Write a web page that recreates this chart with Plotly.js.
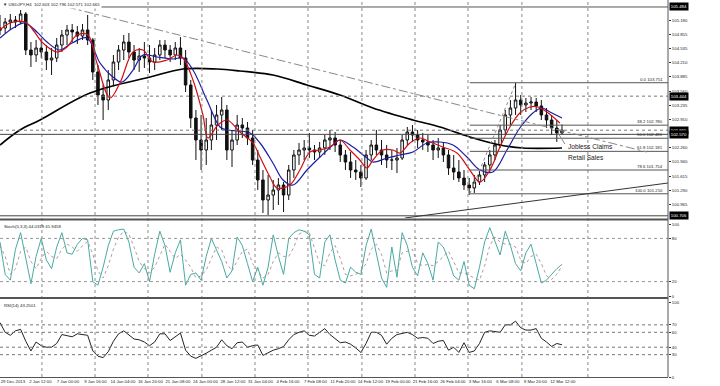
<!DOCTYPE html>
<html><head><meta charset="utf-8">
<script src="https://cdn.plot.ly/plotly-3.0.1.min.js"></script>
<style>html,body{margin:0;padding:0;background:#fff;}#chart{width:720px;height:386px;}</style>
</head><body><div id="chart"></div>
<script>
// ---- data (USDJPY H4, one candle every 3 H4 bars) ----
const highs = [105.301,105.232,105.324,105.278,105.415,105.369,104.683,104.729,104.775,104.614,
104.546,104.775,104.958,105.072,105.095,105.049,105.095,105.301,104.775,104.157,
103.699,104.042,104.386,104.614,104.843,104.889,104.614,104.546,104.683,104.614,
104.546,104.729,104.729,104.614,104.683,104.797,104.500,103.814,103.127,103.013,
102.944,103.127,103.242,103.425,103.242,102.670,103.013,102.944,102.853,102.670,
102.212,101.754,101.640,101.526,101.571,101.480,101.869,102.212,102.372,102.441,
102.601,102.326,102.395,102.555,102.670,102.624,102.441,102.212,102.166,101.983,
101.869,102.212,102.441,102.670,102.441,102.326,102.212,102.258,102.555,102.738,
102.784,102.670,102.601,102.555,102.441,102.487,102.395,102.212,102.098,101.983,
101.754,101.571,101.640,101.754,101.937,102.212,102.441,102.784,103.127,103.356,
103.745,103.470,103.402,103.425,103.402,103.356,103.173,103.013,102.898,102.796];
const lows = [104.843,104.889,104.958,105.003,105.095,104.386,104.111,104.225,104.317,104.042,
103.928,104.225,104.454,104.614,104.683,104.637,104.729,104.614,103.814,103.242,
102.898,103.127,103.699,104.042,104.271,104.317,104.042,103.997,104.088,103.974,
104.042,104.271,104.317,104.225,104.271,104.157,103.539,102.715,101.983,101.754,
101.869,102.212,102.441,102.670,101.983,101.823,102.326,102.487,102.326,101.869,
101.297,100.771,100.725,100.839,100.954,100.793,101.068,101.571,101.869,101.983,
102.029,101.983,102.029,102.098,102.212,102.166,101.937,101.754,101.571,101.526,
101.365,101.526,101.983,102.098,101.869,101.800,101.754,101.686,101.983,102.326,
102.395,102.258,102.212,102.166,101.983,102.029,101.937,101.640,101.526,101.480,
101.297,101.182,101.228,101.411,101.480,101.709,101.983,102.258,102.555,102.784,
103.013,103.013,103.081,103.127,103.081,102.898,102.715,102.555,102.395,102.571];
const closes = [105.003,105.141,105.186,105.141,105.324,104.500,104.386,104.546,104.454,104.271,
104.317,104.614,104.843,104.958,104.912,104.820,104.958,104.729,103.997,103.470,
103.356,103.814,104.225,104.500,104.683,104.454,104.271,104.363,104.317,104.225,
104.386,104.614,104.500,104.386,104.546,104.317,103.699,102.944,102.441,102.212,
102.441,102.784,103.013,103.127,102.212,102.441,102.784,102.715,102.487,101.983,
101.526,101.068,101.182,101.297,101.411,101.182,101.754,102.098,102.212,102.258,
102.212,102.166,102.258,102.441,102.487,102.326,102.098,101.937,101.754,101.709,
101.571,102.098,102.326,102.212,102.098,101.983,101.983,102.029,102.441,102.624,
102.555,102.441,102.395,102.326,102.212,102.258,102.098,101.800,101.709,101.571,
101.411,101.343,101.480,101.640,101.869,102.098,102.326,102.670,103.013,103.173,
103.356,103.242,103.287,103.310,103.219,103.013,102.898,102.715,102.603,102.665];
const firstOpen = 104.95;

// moving averages (bar number, price)
const redMaBars = [0,5.8,14.5,19.2,25.0,33.2,39.0,44.8,51.2,56.4,64.0,69.8,77.4,83.2,89.0,97.2,103.0,106.5,112.3,118.1,121.0,126.8,132.1,139.6,147.2,151.3,157.1,161.2,168.7,174.5,180.4,186.2,192.0,197.8,203.6,209.4,213.5,217.0,222.8,228.6,232.7,238.5,244.4,250.2,257.7,265.9,273.4,279.3,285.1,290.9,296.7,302.5,308.4,313.0,318.2,325.8];
const redMa = [104.958,105.118,105.141,104.958,104.660,104.454,104.569,104.843,104.843,104.203,103.402,103.745,104.454,104.500,104.225,104.271,104.386,104.317,103.814,103.013,102.487,102.784,102.898,102.624,102.372,102.052,101.594,101.343,101.411,101.754,102.166,102.212,102.281,102.441,102.212,101.983,101.800,101.983,102.212,102.212,102.143,102.372,102.487,102.395,102.281,102.143,101.754,101.480,101.754,102.281,102.738,103.059,103.196,103.196,103.081,102.830];
const blueMaBars = [0,7.6,14.5,21.5,27.3,34.9,41.9,50.6,58.2,65.7,71.0,77.4,83.2,91.3,100.7,106.5,112.3,120.4,128.0,132.1,139.6,145.5,151.3,158.8,164.7,170.5,178.6,186.2,193.7,197.8,205.4,213.5,217.0,225.2,232.7,240.3,248.4,256.0,263.6,271.7,279.3,286.8,295.0,302.5,310.1,315.3,320.0,327.0];
const blueMa = [104.775,105.003,105.118,104.912,104.683,104.500,104.660,104.775,104.203,103.882,103.768,104.042,104.386,104.340,104.294,104.317,104.042,103.356,102.738,102.670,102.647,102.601,102.372,101.915,101.526,101.411,101.754,102.052,102.326,102.441,102.281,102.029,101.937,102.029,102.098,102.166,102.372,102.395,102.326,102.052,101.754,101.709,102.212,102.715,103.059,103.173,103.081,102.944];
const blackMaBars = [0,11.6,23.3,52.4,87.3,106.5,126.3,139.6,158.8,178.6,197.8,217.0,240.3,256.0,273.4,290.9,304.3,327.0];
const blackMa = [102.326,102.670,102.898,103.516,103.882,104.065,104.065,104.020,103.928,103.699,103.470,103.173,102.898,102.738,102.509,102.326,102.258,102.258];

// stochastic (5,3,3) and RSI(14), one value per candle
const stochMain = [75,30,22,65,88,50,17,55,80,50,38,68,88,60,58,72,80,78,20,15,
40,70,90,92,93,75,40,32,45,20,58,90,70,33,60,78,15,30,32,22,
55,80,65,48,25,35,82,70,45,20,40,15,40,85,55,30,80,88,92,90,
85,30,25,75,85,50,22,18,40,33,30,70,93,60,25,12,68,26,88,70,
40,28,60,45,22,75,68,50,28,22,48,15,10,40,75,95,75,57,90,70,
45,35,60,72,45,18,22,30,38,44.03];
const stochSignal = [70,55,30,38,62,68,48,38,52,62,55,52,65,72,68,62,70,76,58,35,
25,42,65,82,90,86,68,48,38,32,40,56,72,62,52,58,50,40,25,28,
36,52,68,64,45,35,48,62,65,45,35,25,30,48,60,55,55,68,86,90,
88,68,45,42,60,70,52,30,28,30,35,45,65,72,58,32,35,35,60,62,
65,45,42,44,42,48,55,62,48,32,32,28,25,22,42,70,82,75,72,72,
68,50,45,55,58,45,28,23,30,41.95];
const rsi = [73,60,56,62,64,48,35,47,42,40,40,45,57,55,54,58,57,56,35,28,
26,34,48,58,62,56,51,50,47,42,47,58,58,49,54,59,36,28,25,28,
32,36,40,50,42,38,46,47,40,42,43,29,33,36,38,41,50,57,60,62,
56,55,60,65,57,52,46,47,44,39,33,45,60,60,56,44,52,57,59,60,
57,52,53,52,45,48,49,36,40,33,46,33,35,45,60,62,61,60,70,70,
75,66,63,63,65,52,47,41,45,43.25];

// axis labels and chart objects
const dateLabels = ["29 Dec 2013","2 Jan 12:00","7 Jan 00:00","9 Jan 16:00","14 Jan 04:00","16 Jan 20:00","21 Jan 08:00","24 Jan 00:00","28 Jan 12:00","31 Jan 04:00","4 Feb 16:00","7 Feb 08:00","11 Feb 20:00","14 Feb 12:00","19 Feb 00:00","21 Feb 16:00","26 Feb 04:00","3 Mar 16:00","6 Mar 08:00","9 Mar 20:00","12 Mar 12:00"];
const priceTicks = [105.180,104.855,104.535,104.210,103.885,103.560,103.235,102.910,102.260,101.940,101.615,101.290,100.965];
const markedPrices = [105.484,103.444,102.665,102.570,100.706];
const fibLevels = [0.0,38.2,50.0,61.8,78.6,100.0];
const fibPrices = [103.751,102.780,102.481,102.181,101.754,101.210];
const stochLevels = [80,20];
const rsiLevels = [70,60,40,30];
const headerText = "\u25BC USDJPY,H4  102.603 102.796 102.571 102.665";
const stochText = "Stoch(5,3,3) 44.0319 41.9458";
const rsiText = "RSI(14) 43.2501";
const newsTexts = ["Jobless Claims","Retail Sales"];
const newsPrices = [102.30,102.05];

// ---- build ----
const candleBars = closes.map((_, i) => i * 3);
const opens = [firstOpen].concat(closes.slice(0, -1));
const XMAX = 388.7;
const FONT = "Liberation Sans, Arial, sans-serif";
const H = 377;
const dom = (a, b) => [1 - b / H, 1 - a / H];

const traces = [
  {type:'candlestick', x:candleBars, open:opens, high:highs, low:lows, close:closes,
   increasing:{line:{color:'#111',width:1}, fillcolor:'#ffffff'},
   decreasing:{line:{color:'#111',width:1}, fillcolor:'#111111'},
   whiskerwidth:0, xaxis:'x', yaxis:'y', hoverinfo:'skip'},
  {type:'scatter', mode:'lines', x:blackMaBars, y:blackMa, line:{color:'#000',width:1.7,shape:'spline'}, xaxis:'x', yaxis:'y'},
  {type:'scatter', mode:'lines', x:blueMaBars, y:blueMa, line:{color:'#1c1ca8',width:1.2,shape:'spline'}, xaxis:'x', yaxis:'y'},
  {type:'scatter', mode:'lines', x:redMaBars, y:redMa, line:{color:'#d01010',width:1.2,shape:'spline'}, xaxis:'x', yaxis:'y'},
  {type:'scatter', mode:'lines', x:candleBars, y:stochSignal, line:{color:'#b59a9a',width:1,dash:'dot'}, xaxis:'x', yaxis:'y2'},
  {type:'scatter', mode:'lines', x:candleBars, y:stochMain, line:{color:'#49aaa2',width:1}, xaxis:'x', yaxis:'y2'},
  {type:'scatter', mode:'lines', x:candleBars, y:rsi, line:{color:'#222',width:1}, xaxis:'x', yaxis:'y3'}
];

const shapes = [];
const gridBars = [24.4,55.3,86.1,117.5,148.4,179.2,210.6,241.5,272.3,303.7,342.1];
gridBars.forEach(b => shapes.push({type:'line', xref:'x', yref:'paper', x0:b, x1:b, y0:0, y1:1, line:{color:'#8a8a8a',width:1,dash:'dot'}}));
// horizontal price lines
shapes.push({type:'line', xref:'x', yref:'y', x0:55, x1:XMAX, y0:markedPrices[0], y1:markedPrices[0], line:{color:'#555',width:1}});
shapes.push({type:'line', xref:'x', yref:'y', x0:0, x1:XMAX, y0:markedPrices[1], y1:markedPrices[1], line:{color:'#777',width:1,dash:'dot'}});
shapes.push({type:'line', xref:'x', yref:'y', x0:0, x1:XMAX, y0:markedPrices[2], y1:markedPrices[2], line:{color:'#777',width:1,dash:'dot'}});
shapes.push({type:'line', xref:'x', yref:'y', x0:0, x1:XMAX, y0:markedPrices[3], y1:markedPrices[3], line:{color:'#444',width:1}});
shapes.push({type:'line', xref:'x', yref:'y', x0:0, x1:XMAX, y0:markedPrices[4], y1:markedPrices[4], line:{color:'#444',width:1}});
// fibonacci
fibPrices.forEach(p => shapes.push({type:'line', xref:'x', yref:'y', x0:273.4, x1:XMAX, y0:p, y1:p, line:{color:'#555',width:1}}));
shapes.push({type:'line', xref:'x', yref:'y', x0:273.4, x1:300.2, y0:fibPrices[5], y1:fibPrices[0], line:{color:'#888',width:1,dash:'dot'}});
// trend lines
shapes.push({type:'line', xref:'x', yref:'y', x0:39.0, x1:376.4, y0:105.484, y1:102.166, line:{color:'#888',width:1,dash:'dashdot'}});
shapes.push({type:'line', xref:'x', yref:'y', x0:235.6, x1:XMAX, y0:100.656, y1:101.457, line:{color:'#333',width:1}});
shapes.push({type:'line', xref:'x', yref:'y', x0:324.7, x1:328.7, y0:102.601, y1:102.35, line:{color:'#888',width:1}});
// indicator levels
stochLevels.forEach(v => shapes.push({type:'line', xref:'paper', yref:'y2', x0:0, x1:1, y0:v, y1:v, line:{color:'#999',width:1,dash:'dot'}}));
rsiLevels.forEach(v => shapes.push({type:'line', xref:'paper', yref:'y3', x0:0, x1:1, y0:v, y1:v, line:{color:'#777',width:1,dash:'dot'}}));
// panel separators and frame
[219.5, 298].forEach(py => shapes.push({type:'line', xref:'paper', yref:'paper', x0:0, x1:1, y0:1-py/H, y1:1-py/H, line:{color:'#555',width:2}}));
shapes.push({type:'line', xref:'paper', yref:'paper', x0:1, x1:1, y0:0, y1:1, line:{color:'#555',width:1}});

const annotations = [];
const small = {family:FONT, size:4.3, color:'#222'};
annotations.push({xref:'paper', yref:'paper', x:0, y:1, xanchor:'left', yanchor:'top', xshift:1, yshift:0, text:headerText, showarrow:false, font:small, bgcolor:'#fff'});
annotations.push({xref:'paper', yref:'paper', x:0, y:dom(221,296)[1], xanchor:'left', yanchor:'top', xshift:2, yshift:-1, text:stochText, showarrow:false, font:small});
annotations.push({xref:'paper', yref:'paper', x:0, y:dom(300,377)[1], xanchor:'left', yanchor:'top', xshift:2, yshift:-1, text:rsiText, showarrow:false, font:small});
markedPrices.forEach(p => annotations.push({xref:'paper', yref:'y', x:1, y:p, xanchor:'left', yanchor:'middle', xshift:1, text:p.toFixed(3), showarrow:false, font:{family:FONT, size:4.3, color:'#fff'}, bgcolor:'#000', borderpad:0.8}));
fibLevels.forEach((lv, i) => annotations.push({xref:'paper', yref:'y', x:1, y:fibPrices[i], xanchor:'right', yanchor:'bottom', xshift:-3, yshift:-1, text:lv.toFixed(1)+' '+fibPrices[i].toFixed(3), showarrow:false, font:small}));
newsTexts.forEach((t, i) => annotations.push({xref:'x', yref:'y', x:329.3, y:newsPrices[i], xanchor:'left', yanchor:'middle', text:t, showarrow:false, font:{family:FONT, size:6.6, color:'#222'}}));

const tickFont = {family:FONT, size:4.3, color:'#222'};
const layout = {
  width:720, height:386, margin:{l:0, r:52, t:0, b:9, pad:0},
  paper_bgcolor:'#fff', plot_bgcolor:'#fff', showlegend:false, hovermode:false,
  xaxis:{range:[0, XMAX], anchor:'y3', rangeslider:{visible:false}, showgrid:false, zeroline:false,
         tickmode:'array', tickvals:dateLabels.map((_, k) => k*16 + 7.5), ticktext:dateLabels,
         ticks:'', tickfont:tickFont, tickangle:0, ticklabeloverflow:'allow',
         showline:true, linecolor:'#555', linewidth:1, fixedrange:true},
  yaxis:{domain:dom(0,218), range:[100.656,105.644], side:'right', anchor:'x', showgrid:false, zeroline:false,
         tickmode:'array', tickvals:priceTicks, ticktext:priceTicks.map(v => v.toFixed(3)),
         ticks:'outside', ticklen:2, tickcolor:'#333', tickfont:tickFont, showline:false},
  yaxis2:{domain:dom(221,296), range:[0,104.2], side:'right', anchor:'x', showgrid:false, zeroline:false,
         tickmode:'array', tickvals:[0,20,80,100], ticktext:['0','20','80','100'],
         ticks:'outside', ticklen:2, tickcolor:'#333', tickfont:tickFont},
  yaxis3:{domain:dom(300,377), range:[0,103.4], side:'right', anchor:'x', showgrid:false, zeroline:false,
         tickmode:'array', tickvals:[0,30,40,60,70,100], ticktext:['0','30','40','60','70','100'],
         ticks:'outside', ticklen:2, tickcolor:'#333', tickfont:tickFont},
  shapes:shapes, annotations:annotations
};
Plotly.newPlot('chart', traces, layout, {staticPlot:true, displayModeBar:false});
</script>
</body></html>
